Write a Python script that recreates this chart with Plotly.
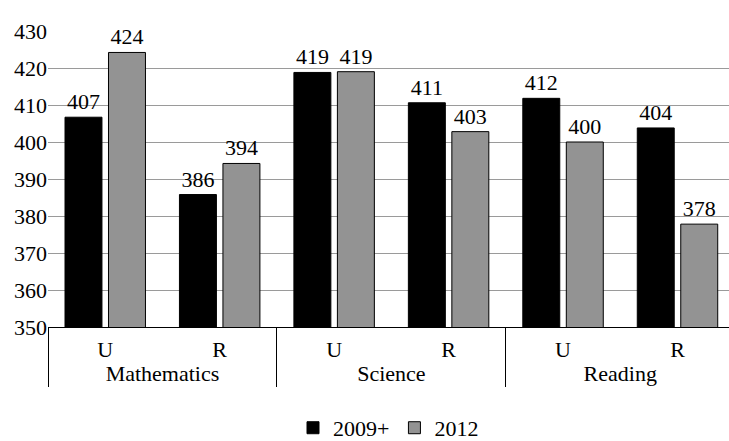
import plotly.graph_objects as go

subjects = ["Mathematics", "Mathematics", "Science", "Science", "Reading", "Reading"]
areas = ["U", "R", "U", "R", "U", "R"]
series_2009 = [406.7, 385.8, 418.8, 410.6, 411.8, 403.8]
series_2012 = [424.2, 394.2, 419.0, 402.8, 400.0, 377.8]
tick_vals = [350, 360, 370, 380, 390, 400, 410, 420, 430]

FONT = "'Liberation Serif', 'Times New Roman', Times, serif"
FS = 22

fig = go.Figure()
fig.add_trace(go.Bar(
    x=[subjects, areas], y=series_2009, name="2009+",
    marker=dict(color="#000000", line=dict(color="#000000", width=1)),
    texttemplate="%{y:.0f}", textposition="outside", cliponaxis=False,
    constraintext="none", textfont=dict(family=FONT, size=FS, color="#000"),
))
fig.add_trace(go.Bar(
    x=[subjects, areas], y=series_2012, name="2012",
    marker=dict(color="#939393", line=dict(color="#000000", width=1)),
    texttemplate="%{y:.0f}", textposition="outside", cliponaxis=False,
    constraintext="none", textfont=dict(family=FONT, size=FS, color="#000"),
))

fig.update_layout(
    width=729, height=441,
    margin=dict(l=48, r=0, t=31, b=114, autoexpand=False),
    paper_bgcolor="white", plot_bgcolor="white",
    font=dict(family=FONT, size=FS, color="#000"),
    barmode="group", bargap=0.24, bargroupgap=0.15,
    showlegend=True,
    legend=dict(orientation="h", x=0.5, xanchor="center", y=-0.27, yanchor="top",
                font=dict(family=FONT, size=FS), itemwidth=30),
    xaxis=dict(type="multicategory", range=[-0.5, 5.45], automargin=False,
               showline=True, linecolor="#000", linewidth=1,
               showdividers=True, dividercolor="#000", dividerwidth=1,
               ticklabelstandoff=3,
               tickfont=dict(family=FONT, size=FS)),
    yaxis=dict(range=[350, 430], tickvals=tick_vals, showgrid=True, automargin=False,
               gridcolor="#9a9a9a", gridwidth=1, zeroline=False, showline=False,
               ticks="", tickfont=dict(family=FONT, size=FS)),
)
fig.write_html("out.html", config={"displayModeBar": False},
               post_script="document.body.style.margin='0';document.body.style.padding='0';")
